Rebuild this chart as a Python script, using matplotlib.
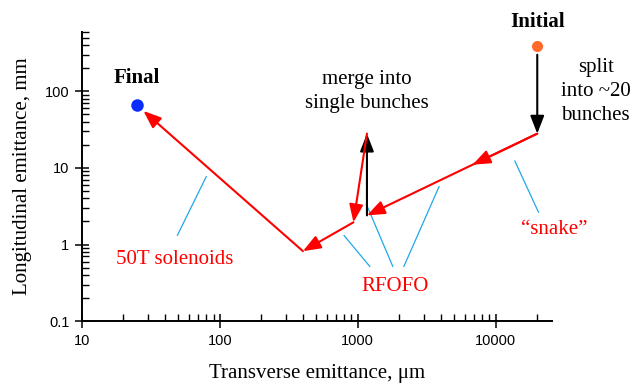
import numpy as np
import matplotlib
matplotlib.use("Agg")
import matplotlib.pyplot as plt
from matplotlib.ticker import FixedLocator, FixedFormatter, LogLocator, NullFormatter

# Data (transverse emittance in um, longitudinal emittance in mm)
initial_pt = (20000, 390)
final_pt = (25, 66)
split_end = (20000, 28)
path_x = [20000, 1165, 1165, 930, 400, 25]
path_y = [28, 2.4, 28, 1.95, 0.82, 66]
path_color = ["red", "black", "red", "red", "red"]

# leader lines from labels to the cooling stages (data coords)
leaders = [
    ((49, 1.3), (80, 7.8)),       # 50T solenoids
    ((790, 1.33), (1230, 0.51)),  # RFOFO
    ((1150, 3.4), (1800, 0.51)),  # RFOFO
    ((2150, 0.51), (3900, 5.8)),  # RFOFO
    ((13700, 12.5), (20500, 2.6)),  # snake
]

x_ticks = [10, 100, 1000, 10000]
y_ticks = [0.1, 1, 10, 100]

RED = "#ff0000"
CYAN = "#1fa8e8"
serif = ["Liberation Serif", "DejaVu Serif"]
FS = 15

fig = plt.figure(figsize=(6.35, 3.86), dpi=100)
ax = fig.add_axes([0.129, 0.168, 0.740, 0.750])
ax.set_xscale("log")
ax.set_yscale("log")
ax.set_xlim(10, 25500)
ax.set_ylim(0.1, 600)

# leader lines
for (x0, y0), (x1, y1) in leaders:
    ax.plot([x0, x1], [y0, y1], color=CYAN, lw=0.9, solid_capstyle="butt")

arrow_kw = dict(mutation_scale=12, shrinkA=0, shrinkB=0)
head = "-|>,head_length=0.9,head_width=0.35"

# split arrow from Initial
ax.annotate("", xy=split_end, xytext=(initial_pt[0], 300),
            arrowprops=dict(arrowstyle=head, color="black", lw=1.5, **arrow_kw))

# cooling path
for i in range(len(path_x) - 1):
    p0 = (path_x[i], path_y[i])
    p1 = (path_x[i + 1], path_y[i + 1])
    end = p1
    if i == len(path_x) - 2:
        # stop the arrow just short of the final marker
        lx = np.log10(p0[0]) + 0.96 * (np.log10(p1[0]) - np.log10(p0[0]))
        ly = np.log10(p0[1]) + 0.96 * (np.log10(p1[1]) - np.log10(p0[1]))
        end = (10 ** lx, 10 ** ly)
    ax.annotate("", xy=end, xytext=p0,
                arrowprops=dict(arrowstyle=head, color=path_color[i], lw=1.5, **arrow_kw))
    if i == 0:
        t = 0.38
        mx = 10 ** (np.log10(p0[0]) + t * (np.log10(p1[0]) - np.log10(p0[0])))
        my = 10 ** (np.log10(p0[1]) + t * (np.log10(p1[1]) - np.log10(p0[1])))
        ax.annotate("", xy=(mx, my), xytext=p0,
                    arrowprops=dict(arrowstyle=head, color=RED, lw=1.5, **arrow_kw))

# points
ax.plot(*initial_pt, "o", color="#ff6a2a", ms=8, mec="none", clip_on=False, zorder=5)
ax.plot(*final_pt, "o", color="#0a2cff", ms=9, mec="none", clip_on=False, zorder=5)

# labels
ax.text(initial_pt[0], 810, "Initial", ha="center", va="center", fontsize=FS,
        fontweight="bold", family=serif)
ax.text(final_pt[0], 150, "Final", ha="center", va="center", fontsize=FS,
        fontweight="bold", family=serif)
ax.text(53000, 100, "split\ninto ~20\nbunches", ha="center", va="center",
        fontsize=FS, family=serif, linespacing=1.35)
ax.text(1170, 98, "merge into\nsingle bunches", ha="center", va="center",
        fontsize=FS, family=serif, linespacing=1.35)
ax.text(47, 0.63, "50T solenoids", ha="center", va="center", fontsize=FS,
        color=RED, family=serif)
ax.text(1865, 0.28, "RFOFO", ha="center", va="center", fontsize=FS,
        color=RED, family=serif)
ax.text(26600, 1.58, "\u201csnake\u201d", ha="center", va="center", fontsize=FS,
        color=RED, family=serif)

ax.set_xlabel("Transverse emittance, \u03bcm", fontsize=FS, family=serif, labelpad=12)
ax.set_ylabel("Longitudinal emittance, mm", fontsize=FS, family=serif, labelpad=9)

# axes styling
for s in ["top", "right"]:
    ax.spines[s].set_visible(False)
for s in ["left", "bottom"]:
    ax.spines[s].set_linewidth(1.4)

ax.xaxis.set_major_locator(FixedLocator(x_ticks))
ax.xaxis.set_major_formatter(FixedFormatter([str(v) for v in x_ticks]))
ax.yaxis.set_major_locator(FixedLocator(y_ticks))
ax.yaxis.set_major_formatter(FixedFormatter([str(v) for v in y_ticks]))
ax.xaxis.set_minor_locator(LogLocator(base=10, subs=np.arange(2, 10)))
ax.yaxis.set_minor_locator(LogLocator(base=10, subs=np.arange(2, 10)))
ax.xaxis.set_minor_formatter(NullFormatter())
ax.yaxis.set_minor_formatter(NullFormatter())
ax.tick_params(which="major", direction="inout", length=10, width=1.1,
               labelsize=10.5, pad=4)
ax.tick_params(which="minor", direction="in", length=5, width=1.0)
for lab in ax.get_xticklabels() + ax.get_yticklabels():
    lab.set_family("Liberation Sans")

fig.savefig("out.png", dpi=100)
